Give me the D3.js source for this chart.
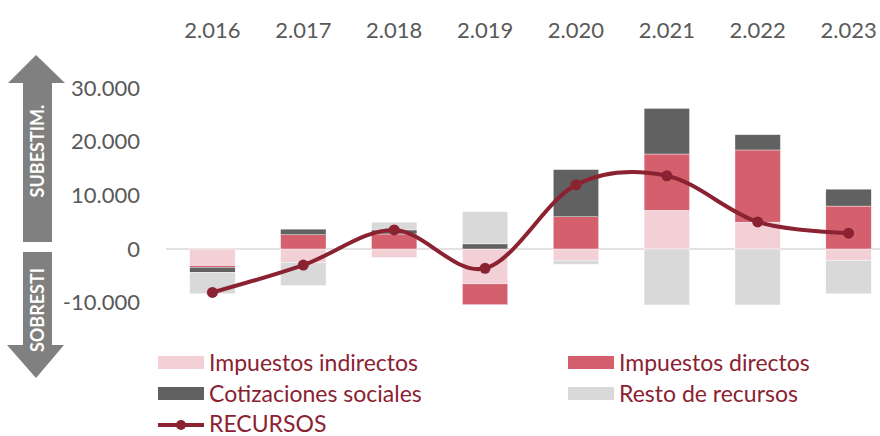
<!DOCTYPE html>
<html>
<head>
<meta charset="utf-8">
<script src="https://cdn.jsdelivr.net/npm/d3@7"></script>
<style>
  body { margin: 0; background: #fff; }
  svg { display: block; font-family: Lato, "Open Sans", sans-serif; }
</style>
</head>
<body>
<svg id="chart" width="880" height="436"></svg>
<script>
// data (millones)
const years = ["2.016", "2.017", "2.018", "2.019", "2.020", "2.021", "2.022", "2.023"];
const indirectos   = [-3100, -2500, -1600, -6500, -2100, 7200, 5000, -2200];
const directos     = [-300, 2650, 2800, -3900, 6000, 10500, 13450, 8000];
const cotizaciones = [-950, 1050, 750, 950, 8800, 8500, 2850, 3150];
const resto        = [-4000, -4300, 1450, 6000, -750, -12600, -16300, -6150];
const recursos     = [-8100, -3000, 3550, -3600, 11950, 13650, 5050, 2950];
const yTicks = [-10000, 0, 10000, 20000, 30000];

const keys = ["indirectos", "directos", "cotizaciones", "resto"];
const labels = {
  indirectos: "Impuestos indirectos",
  directos: "Impuestos directos",
  cotizaciones: "Cotizaciones sociales",
  resto: "Resto de recursos"
};
const colors = {
  indirectos: "#f2d0d5",
  directos: "#d4606e",
  cotizaciones: "#616161",
  resto: "#d9d9d9"
};
const lineColor = "#8b2232";

const rows = years.map((y, i) => ({
  year: y,
  indirectos: indirectos[i],
  directos: directos[i],
  cotizaciones: cotizaciones[i],
  resto: resto[i],
  recursos: recursos[i]
}));

const svg = d3.select("#chart");

const x = d3.scaleBand()
    .domain(years)
    .range([167, 894])
    .paddingInner(0.5)
    .paddingOuter(0.25);

const y = d3.scaleLinear()
    .domain([-10400, 30000])
    .range([304.8, 88]);

const es = d3.formatLocale({decimal: ",", thousands: ".", grouping: [3], currency: ["", ""], minus: "-"});
const fmt = es.format(",.0f");

// clip so the big negative bars stop at the bottom of the plot
svg.append("clipPath").attr("id", "plot")
  .append("rect")
    .attr("x", 0).attr("y", 0)
    .attr("width", 880).attr("height", y(-10400));

// zero line
svg.append("line")
    .attr("x1", 166).attr("x2", 880)
    .attr("y1", y(0)).attr("y2", y(0))
    .attr("stroke", "#d9d9d9")
    .attr("stroke-width", 1.5);

const series = d3.stack()
    .keys(keys)
    .offset(d3.stackOffsetDiverging)(rows);

svg.append("g")
    .attr("clip-path", "url(#plot)")
  .selectAll("g")
  .data(series)
  .join("g")
    .attr("fill", d => colors[d.key])
  .selectAll("rect")
  .data(d => d)
  .join("rect")
    .attr("x", d => x(d.data.year))
    .attr("width", x.bandwidth())
    .attr("y", d => y(Math.max(d[0], d[1])))
    .attr("height", d => Math.abs(y(d[0]) - y(d[1])))
    .attr("stroke", "#fff")
    .attr("stroke-width", 0.4);

// RECURSOS line
const line = d3.line()
    .x(d => x(d.year) + x.bandwidth() / 2)
    .y(d => y(d.recursos))
    .curve(d3.curveCardinal.tension(0));

svg.append("path")
    .datum(rows)
    .attr("fill", "none")
    .attr("stroke", lineColor)
    .attr("stroke-width", 4)
    .attr("d", line);

svg.append("g")
  .selectAll("circle")
  .data(rows)
  .join("circle")
    .attr("cx", d => x(d.year) + x.bandwidth() / 2)
    .attr("cy", d => y(d.recursos))
    .attr("r", 5.5)
    .attr("fill", lineColor);

// axes
const yAxis = svg.append("g")
    .attr("transform", "translate(148,0)")
    .call(d3.axisLeft(y).tickValues(yTicks).tickSize(0).tickPadding(8).tickFormat(fmt));
yAxis.select(".domain").remove();
yAxis.selectAll("text")
    .attr("fill", "#595959")
    .style("font-family", "Lato, sans-serif")
    .style("font-size", "22px");

const xAxis = svg.append("g")
    .attr("transform", "translate(0,38)")
    .call(d3.axisTop(x).tickSize(0).tickPadding(0));
xAxis.select(".domain").remove();
xAxis.selectAll("text")
    .attr("fill", "#595959")
    .style("font-family", "Lato, sans-serif")
    .style("font-size", "22px");

// side arrows
const arrowGray = "#808080";
svg.append("path")
    .attr("fill", arrowGray)
    .attr("d", "M36,55 L65,83 L52,83 L52,242 L23,242 L23,83 L8,83 Z");
svg.append("path")
    .attr("fill", arrowGray)
    .attr("d", "M23,252 L52,252 L52,345 L64,345 L36,378 L7,345 L23,345 Z");

svg.append("text")
    .attr("transform", "translate(44,151) rotate(-90)")
    .attr("text-anchor", "middle")
    .attr("fill", "#fff")
    .style("font-weight", "bold")
    .style("font-size", "18px")
    .text("SUBESTIM.");
svg.append("text")
    .attr("transform", "translate(44,310) rotate(-90)")
    .attr("text-anchor", "middle")
    .attr("fill", "#fff")
    .style("font-weight", "bold")
    .style("font-size", "18px")
    .text("SOBRESTI");

// legend
const legendItems = [
  {key: "indirectos", lx: 158, ly: 356},
  {key: "directos", lx: 568, ly: 356},
  {key: "cotizaciones", lx: 158, ly: 387},
  {key: "resto", lx: 568, ly: 387}
];
const legend = svg.append("g");
legendItems.forEach(it => {
  legend.append("rect")
      .attr("x", it.lx).attr("y", it.ly)
      .attr("width", 46).attr("height", 13)
      .attr("fill", colors[it.key]);
  legend.append("text")
      .attr("x", it.lx + 51).attr("y", it.ly + 15)
      .attr("fill", lineColor)
      .style("font-size", "23px")
      .text(labels[it.key]);
});
legend.append("line")
    .attr("x1", 158).attr("x2", 204)
    .attr("y1", 425).attr("y2", 425)
    .attr("stroke", lineColor)
    .attr("stroke-width", 4);
legend.append("circle")
    .attr("cx", 181).attr("cy", 425).attr("r", 5)
    .attr("fill", lineColor);
legend.append("text")
    .attr("x", 209).attr("y", 432)
    .attr("fill", lineColor)
    .style("font-size", "23px")
    .text("RECURSOS");
</script>
</body>
</html>
